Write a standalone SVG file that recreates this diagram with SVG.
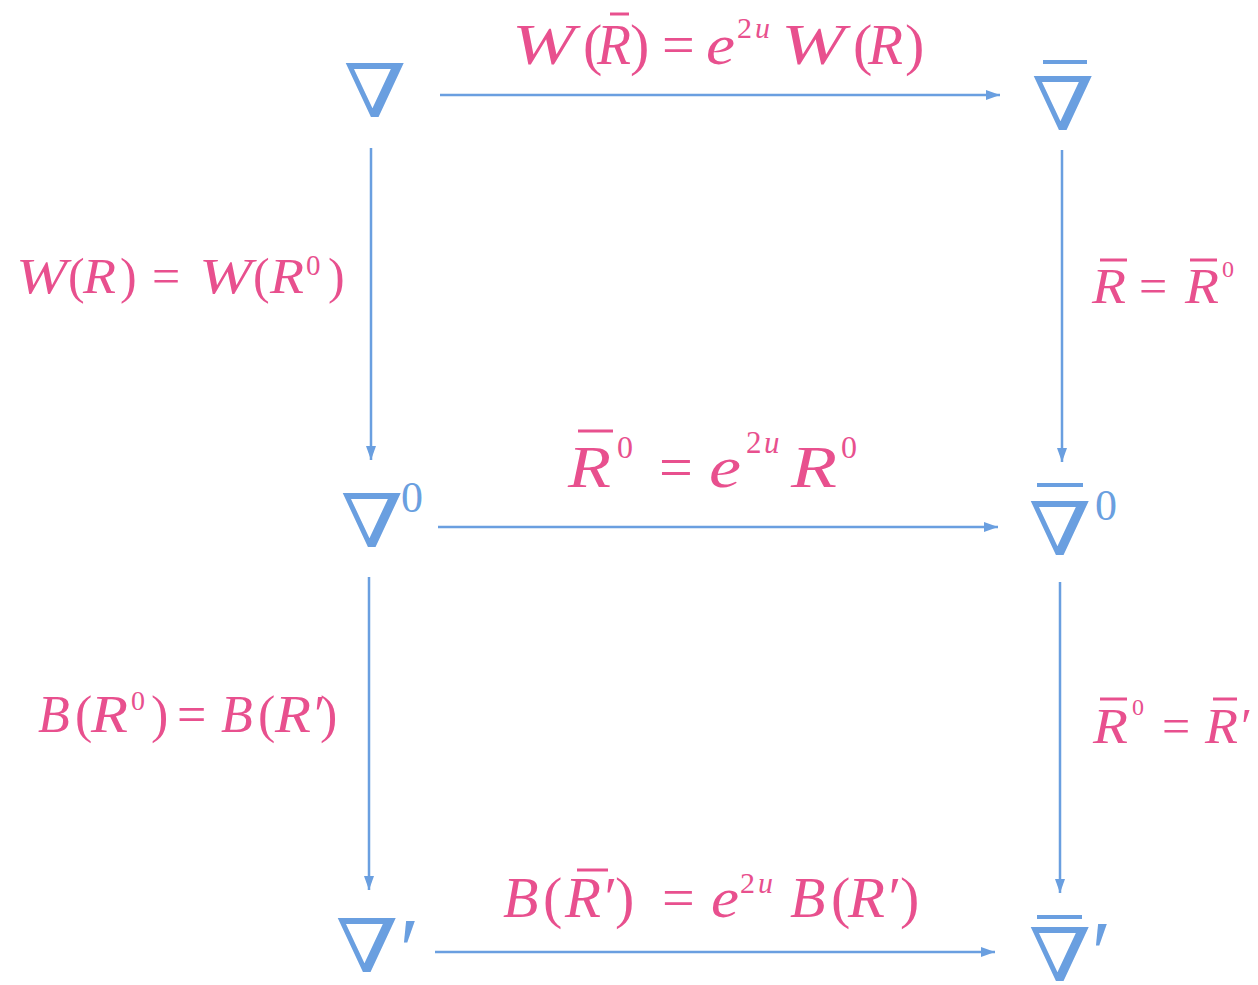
<svg xmlns="http://www.w3.org/2000/svg" width="1258" height="985" viewBox="0 0 1258 985">
<defs>
<marker id="ah" viewBox="0 0 14 10" refX="14" refY="5" markerWidth="14" markerHeight="10" markerUnits="userSpaceOnUse" orient="auto">
<path d="M0,0 L14,5 L0,10 Z" fill="#6A9FE0"/>
</marker>
<style>
.conn{stroke:#6A9FE0;stroke-width:2.5;fill:none;marker-end:url(#ah)}
.nab{font-family:"DejaVu Serif","Liberation Serif",serif;fill:#6A9FE0;font-size:74px}
.sup{font-family:"Liberation Serif",serif;fill:#6A9FE0}
.bar{stroke:#6A9FE0;stroke-width:4}
.lbl{font-family:"Liberation Serif",serif;fill:#E8508E;font-style:italic}
.up{font-style:normal}
.pbar{stroke:#E8508E;stroke-width:3}
</style>
</defs>
<rect width="1258" height="985" fill="#fff"/>
<g id="connectors">
<line class="conn" x1="440" y1="95" x2="1000" y2="95"/>
<line class="conn" x1="438" y1="527" x2="998" y2="527"/>
<line class="conn" x1="435" y1="952" x2="995" y2="952"/>
<line class="conn" x1="371" y1="148" x2="371" y2="460"/>
<line class="conn" x1="1062" y1="150" x2="1062" y2="462"/>
<line class="conn" x1="369" y1="577" x2="369" y2="890"/>
<line class="conn" x1="1060" y1="582" x2="1060" y2="893"/>
</g>
<g id="n-nabla">
<text class="nab" transform="translate(375,117) scale(1.22,1)" text-anchor="middle">∇</text>
</g>
<g id="n-nablabar">
<line class="bar" x1="1043" y1="62" x2="1087" y2="62"/>
<text class="nab" transform="translate(1063,130) scale(1.22,1)" text-anchor="middle">∇</text>
</g>
<g id="n-nabla0">
<text class="nab" transform="translate(372,547) scale(1.22,1)" text-anchor="middle">∇</text>
<text class="sup" x="401" y="512" font-size="44">0</text>
</g>
<g id="n-nablabar0">
<line class="bar" x1="1037" y1="485" x2="1083" y2="485"/>
<text class="nab" transform="translate(1060,555) scale(1.22,1)" text-anchor="middle">∇</text>
<text class="sup" x="1095" y="520" font-size="44">0</text>
</g>
<g id="n-nablaprime">
<text class="nab" transform="translate(367,972) scale(1.22,1)" text-anchor="middle">∇</text>
<text class="sup" x="394" y="981" font-size="90" font-style="italic">′</text>
</g>
<g id="n-nablabarprime">
<line class="bar" x1="1037" y1="917" x2="1082" y2="917"/>
<text class="nab" transform="translate(1060,981) scale(1.22,1)" text-anchor="middle">∇</text>
<text class="sup" x="1086" y="984" font-size="90" font-style="italic">′</text>
</g>
<g id="labels">
<text class="lbl" y="64" font-size="58"><tspan x="512" textLength="63" lengthAdjust="spacingAndGlyphs">W</tspan><tspan class="up" x="583">(</tspan><tspan x="597" textLength="34" lengthAdjust="spacingAndGlyphs">R</tspan><tspan class="up" x="630">)</tspan><tspan class="up" x="662">=</tspan><tspan x="706" textLength="29" lengthAdjust="spacingAndGlyphs">e</tspan><tspan class="up" x="737" y="38" font-size="30">2</tspan><tspan x="755" y="38" font-size="30">u</tspan><tspan x="781" y="64" textLength="64" lengthAdjust="spacingAndGlyphs">W</tspan><tspan class="up" x="853">(</tspan><tspan x="868" textLength="35" lengthAdjust="spacingAndGlyphs">R</tspan><tspan class="up" x="905">)</tspan></text>
<line class="pbar" x1="610" y1="14" x2="629" y2="14"/>
<text class="lbl" y="293" font-size="50"><tspan x="16" textLength="51" lengthAdjust="spacingAndGlyphs">W</tspan><tspan class="up" x="68">(</tspan><tspan x="83" textLength="33" lengthAdjust="spacingAndGlyphs">R</tspan><tspan class="up" x="120">)</tspan><tspan class="up" x="152">=</tspan><tspan x="199" textLength="53" lengthAdjust="spacingAndGlyphs">W</tspan><tspan class="up" x="253">(</tspan><tspan x="270" textLength="34" lengthAdjust="spacingAndGlyphs">R</tspan><tspan class="up" x="306" y="275" font-size="29">0</tspan><tspan class="up" x="328" y="293">)</tspan></text>
<text class="lbl" y="303" font-size="50"><tspan x="1092" textLength="34" lengthAdjust="spacingAndGlyphs">R</tspan><tspan class="up" x="1139">=</tspan><tspan x="1185" textLength="34" lengthAdjust="spacingAndGlyphs">R</tspan><tspan class="up" x="1222" y="277" font-size="24">0</tspan></text>
<line class="pbar" x1="1100" y1="260" x2="1127" y2="260"/>
<line class="pbar" x1="1190" y1="260" x2="1217" y2="260"/>
<text class="lbl" y="487" font-size="60"><tspan x="568" textLength="43" lengthAdjust="spacingAndGlyphs">R</tspan><tspan class="up" x="617" y="458" font-size="32">0</tspan><tspan class="up" x="659" y="487">=</tspan><tspan x="709" textLength="32" lengthAdjust="spacingAndGlyphs">e</tspan><tspan class="up" x="746" y="453" font-size="31">2</tspan><tspan x="764" y="453" font-size="31">u</tspan><tspan x="791" y="487" textLength="46" lengthAdjust="spacingAndGlyphs">R</tspan><tspan class="up" x="841" y="458" font-size="32">0</tspan></text>
<line class="pbar" x1="578" y1="431" x2="613" y2="431" stroke-width="3.5"/>
<text class="lbl" y="732" font-size="52"><tspan x="38">B</tspan><tspan class="up" x="75">(</tspan><tspan x="91" textLength="37" lengthAdjust="spacingAndGlyphs">R</tspan><tspan class="up" x="131" y="710" font-size="28">0</tspan><tspan class="up" x="151" y="732">)</tspan><tspan class="up" x="177">=</tspan><tspan x="221">B</tspan><tspan class="up" x="258">(</tspan><tspan x="275" textLength="36" lengthAdjust="spacingAndGlyphs">R</tspan><tspan x="311">′</tspan><tspan class="up" x="320">)</tspan></text>
<text class="lbl" y="743" font-size="50"><tspan x="1093" textLength="35" lengthAdjust="spacingAndGlyphs">R</tspan><tspan class="up" x="1132" y="715" font-size="24">0</tspan><tspan class="up" x="1162" y="743">=</tspan><tspan x="1205" textLength="33" lengthAdjust="spacingAndGlyphs">R</tspan><tspan x="1238">′</tspan></text>
<line class="pbar" x1="1100" y1="699" x2="1127" y2="699"/>
<line class="pbar" x1="1213" y1="699" x2="1237" y2="699"/>
<text class="lbl" y="917" font-size="58"><tspan x="503">B</tspan><tspan class="up" x="543">(</tspan><tspan x="565" textLength="36" lengthAdjust="spacingAndGlyphs">R</tspan><tspan x="601">′</tspan><tspan class="up" x="615">)</tspan><tspan class="up" x="662">=</tspan><tspan x="711" textLength="28" lengthAdjust="spacingAndGlyphs">e</tspan><tspan class="up" x="740" y="893" font-size="30">2</tspan><tspan x="758" y="893" font-size="30">u</tspan><tspan x="790" y="917">B</tspan><tspan class="up" x="831">(</tspan><tspan x="848" textLength="37" lengthAdjust="spacingAndGlyphs">R</tspan><tspan x="885">′</tspan><tspan class="up" x="900">)</tspan></text>
<line class="pbar" x1="577" y1="870" x2="608" y2="870"/>
</g>
</svg>
